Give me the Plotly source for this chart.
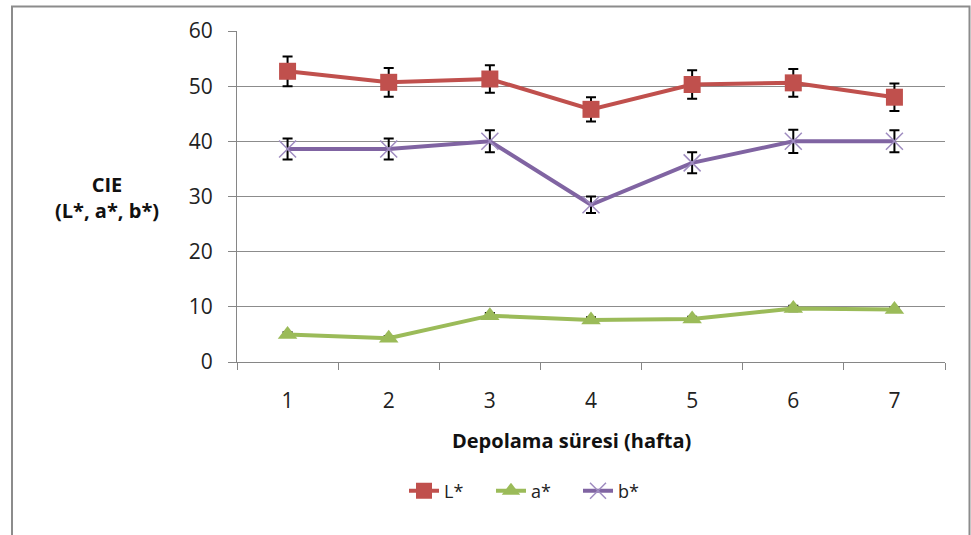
import plotly.graph_objects as go

weeks = ["1", "2", "3", "4", "5", "6", "7"]
L_vals = [52.7, 50.7, 51.3, 45.8, 50.3, 50.6, 48.0]
L_err = [2.7, 2.6, 2.5, 2.2, 2.6, 2.5, 2.5]
a_vals = [5.0, 4.3, 8.4, 7.6, 7.8, 9.7, 9.5]
a_err = [0.4, 0.4, 0.5, 0.5, 0.4, 0.5, 0.4]
b_vals = [38.6, 38.6, 40.0, 28.5, 36.1, 40.0, 40.0]
b_err = [1.9, 1.9, 2.0, 1.5, 1.9, 2.1, 2.0]
y_ticks = [0, 10, 20, 30, 40, 50, 60]

W, H = 971, 535
L_M, R_M, T_M, B_M = 237, 971 - 945, 31, 535 - 362
PW, PH = W - L_M - R_M, H - T_M - B_M

def px(x):
    return (x - L_M) / PW

def py(y):
    return (H - B_M - y) / PH

font = "Open Sans, Liberation Sans, sans-serif"

fig = go.Figure()

def err(e):
    return dict(type="data", array=e, visible=True, color="black", thickness=2, width=5)

fig.add_trace(go.Scatter(
    x=weeks, y=L_vals, name="L*", mode="lines+markers",
    line=dict(color="#C0504D", width=4),
    marker=dict(symbol="square", size=17, color="#C0504D"),
    error_y=err(L_err)))
fig.add_trace(go.Scatter(
    x=weeks, y=a_vals, name="a*", mode="lines+markers",
    line=dict(color="#9BBB59", width=4),
    marker=dict(symbol="triangle-up", size=17, color="#9BBB59"),
    error_y=err(a_err)))
fig.add_trace(go.Scatter(
    x=weeks, y=b_vals, name="b*", mode="lines+markers",
    line=dict(color="#8064A2", width=4),
    marker=dict(symbol="x-thin-open", size=17, color="#9F8CC0",
                line=dict(width=1.5, color="#9F8CC0")),
    error_y=err(b_err)))

fig.update_layout(
    width=W, height=H,
    margin=dict(l=L_M, r=R_M, t=T_M, b=B_M, autoexpand=False),
    paper_bgcolor="white", plot_bgcolor="white",
    font=dict(family=font, size=18, color="#222"),
    showlegend=True,
    legend=dict(orientation="h", x=px(404), y=py(491), xanchor="left", yanchor="middle",
                font=dict(size=18, family=font, color="#222"),
                entrywidth=42, entrywidthmode="pixels", tracegroupgap=0),
    shapes=[dict(type="rect", xref="paper", yref="paper",
                 x0=px(12), x1=px(969.5), y0=py(560), y1=py(6.5),
                 line=dict(color="#8C8C8C", width=2), layer="below")],
    annotations=[
        dict(text="<b>Depolama süresi (hafta)</b>", xref="paper", yref="paper",
             x=px(571), y=py(440), xanchor="center", yanchor="middle", showarrow=False,
             font=dict(size=20, family=font, color="#111")),
        dict(text="<b>CIE<br>(L*, a*, b*)</b>", xref="paper", yref="paper",
             x=px(107), y=py(197), xanchor="center", yanchor="middle", showarrow=False,
             font=dict(size=20, family=font, color="#111")),
    ],
)

fig.update_xaxes(
    type="category", range=[-0.5, 6.5], showgrid=False,
    showline=True, linecolor="#868686", linewidth=1,
    ticks="outside", tickson="boundaries", ticklen=7, tickcolor="#868686",
    ticklabelstandoff=20, tickfont=dict(size=21, family=font, color="#222"))
fig.update_yaxes(
    range=[0, 60], tickvals=y_ticks, showgrid=True, gridcolor="#8C8C8C", gridwidth=1,
    showline=True, linecolor="#868686", linewidth=1, zeroline=False,
    ticks="outside", ticklen=8, tickcolor="#868686",
    ticklabelstandoff=11, tickfont=dict(size=21, family=font, color="#222"))

fig.write_html("out.html", config={"displayModeBar": False},
               post_script="document.body.style.margin='0';document.body.style.overflow='hidden';")
